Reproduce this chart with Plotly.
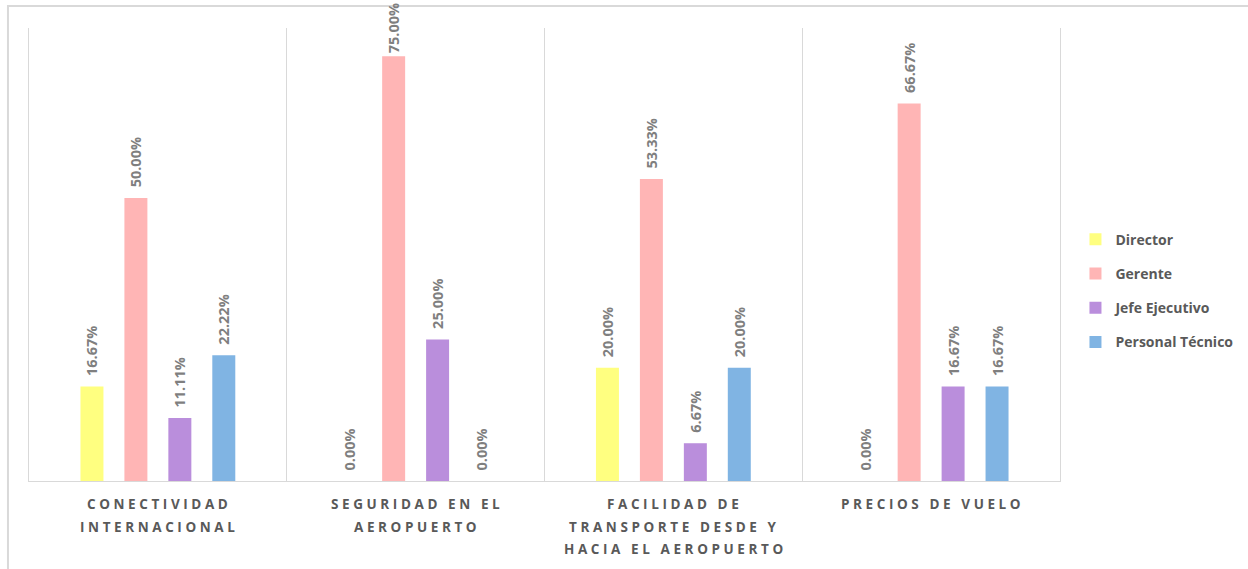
import plotly.graph_objects as go

# Survey results by factor and respondent role (percent)
categories = [
    "CONECTIVIDAD<br>INTERNACIONAL",
    "SEGURIDAD EN EL<br>AEROPUERTO",
    "FACILIDAD DE<br>TRANSPORTE DESDE Y<br>HACIA EL AEROPUERTO",
    "PRECIOS DE VUELO",
]
director = [16.67, 0.00, 20.00, 0.00]
gerente = [50.00, 75.00, 53.33, 66.67]
jefe_ejecutivo = [11.11, 25.00, 6.67, 16.67]
personal_tecnico = [22.22, 0.00, 20.00, 16.67]

series_names = ["Director", "Gerente", "Jefe Ejecutivo", "Personal Técnico"]
series_values = [director, gerente, jefe_ejecutivo, personal_tecnico]
series_colors = ["#FFFF80", "#FFB5B5", "#BA8EDC", "#80B4E3"]

FONT = "Open Sans"
GREY = "#595959"
GRID = "#D9D9D9"
Y_MAX = 0.8
TALL_BAR = 0.7  # bars above this share get no lead-in so their label stays on the page


def spaced(line):
    """Widen letter spacing with thin spaces."""
    return "\u2009\u200a".join(line)


def label_template(v):
    pad = "" if v / 100 > TALL_BAR else "\u00a0\u00a0"
    return pad + "%{y:.2%}"


fig = go.Figure()
for name, vals, color in zip(series_names, series_values, series_colors):
    fig.add_trace(go.Bar(
        name=name,
        legendgroup=name,
        x=categories,
        y=[v / 100 for v in vals],
        marker=dict(color=color, line=dict(width=0)),
        texttemplate=[label_template(v) for v in vals],
        textposition="outside",
        textangle=-90,
        constraintext="none",
        textfont=dict(family=FONT, size=14.5, color="#7F7F7F", weight="bold"),
        cliponaxis=False,
    ))

# Category labels: one annotation per line for wider line spacing
annotations = []
for cat in categories:
    for j, line in enumerate(cat.split("<br>")):
        annotations.append(dict(
            x=cat, xref="x", y=0, yref="paper",
            text=spaced(line),
            showarrow=False,
            xanchor="center", yanchor="middle",
            yshift=-(23 + j * 22.5),
            font=dict(family=FONT, size=13.5, color=GREY, weight="bold"),
        ))

fig.update_layout(
    width=1248,
    height=569,
    barmode="group",
    bargap=0.318,
    bargroupgap=0.477,
    paper_bgcolor="white",
    plot_bgcolor="white",
    margin=dict(l=29, r=188, t=28, b=88, autoexpand=False),
    font=dict(family=FONT, color=GREY),
    showlegend=True,
    legend=dict(
        x=1.015, y=0.42, xanchor="left", yanchor="middle",
        font=dict(family=FONT, size=14, color=GREY, weight="bold"),
        tracegroupgap=13,
        itemwidth=30,
        bgcolor="rgba(0,0,0,0)",
    ),
    xaxis=dict(
        tickson="boundaries",
        showgrid=True,
        gridcolor=GRID,
        gridwidth=1,
        showline=True,
        linecolor=GRID,
        linewidth=1,
        ticks="",
        showticklabels=False,
    ),
    yaxis=dict(
        range=[0, Y_MAX],
        showgrid=False,
        zeroline=False,
        showticklabels=False,
        ticks="",
        showline=True,
        linecolor=GRID,
        linewidth=1,
        mirror=True,
    ),
    annotations=annotations,
    shapes=[
        dict(
            type="rect", xref="paper", yref="paper",
            x0=-0.0204, x1=1.3, y0=-0.3, y1=1.0486,
            line=dict(color=GRID, width=2),
            layer="below",
        )
    ],
)

fig.write_html("out.html")
